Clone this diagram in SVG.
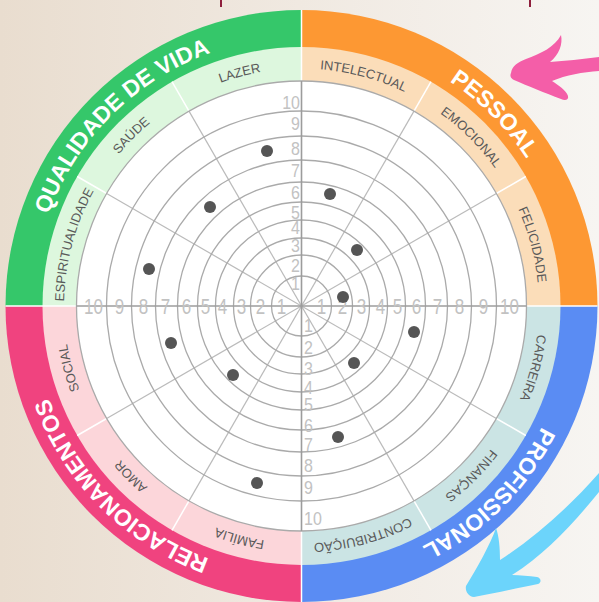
<svg xmlns="http://www.w3.org/2000/svg" width="599" height="602" viewBox="0 0 599 602">
<defs>
<linearGradient id="bg" x1="0" y1="0" x2="1" y2="0">
<stop offset="0" stop-color="#E9DDCF"/>
<stop offset="0.5" stop-color="#F0E9E1"/>
<stop offset="1" stop-color="#F7F5F2"/>
</linearGradient>
<path id="majorArc" d="M570.5,306 A269,269 0 0 1 32.5,306 A269,269 0 0 1 570.5,306"/>
<path id="subArc" d="M538.9,306 A237.4,237.4 0 0 1 64.1,306 A237.4,237.4 0 0 1 538.9,306"/>
<style>
.major{font-family:"Liberation Sans",Arial,sans-serif;font-size:23px;font-weight:bold;fill:#fff;text-anchor:middle}
.sub{font-family:"Liberation Sans",Arial,sans-serif;font-size:13px;fill:#595959;text-anchor:middle}
.num{font-family:"Liberation Sans",Arial,sans-serif;fill:#c2c2c2}
.hn{font-size:17px;text-anchor:middle}
.vt{font-size:16px;text-anchor:end}
.vb{font-size:16px;text-anchor:start}
.ring{fill:none;stroke:#aaa;stroke-width:1.3}
.spoke{stroke:#bbb;stroke-width:1.2}
.axis{stroke:#9c9c9c;stroke-width:1.6}
.sep{stroke:#fff;stroke-width:1.5}
.dot{fill:#555}
</style>
</defs>
<rect width="599" height="602" fill="url(#bg)"/>
<g id="ticks" stroke="#8E1F3D" stroke-width="2">
<line x1="221" y1="0" x2="221" y2="7"/>
<line x1="530" y1="0" x2="530" y2="7"/>
</g>
<g id="outer-band">
<path d="M301.5,306 L5.5,306 A296,296 0 0 1 301.5,10 Z" fill="#35C76A"/>
<path d="M301.5,306 L301.5,10 A296,296 0 0 1 597.5,306 Z" fill="#FD9833"/>
<path d="M301.5,306 L597.5,306 A296,296 0 0 1 301.5,602 Z" fill="#5A8CF3"/>
<path d="M301.5,306 L301.5,602 A296,296 0 0 1 5.5,306 Z" fill="#F0437F"/>
</g>
<g id="inner-band">
<path d="M301.5,306 L42.5,306 A259,259 0 0 1 301.5,47 Z" fill="#DDF7DE"/>
<path d="M301.5,306 L301.5,47 A259,259 0 0 1 560.5,306 Z" fill="#FBDDB9"/>
<path d="M301.5,306 L560.5,306 A259,259 0 0 1 301.5,565 Z" fill="#CBE4E4"/>
<path d="M301.5,306 L301.5,565 A259,259 0 0 1 42.5,306 Z" fill="#FCD6DA"/>
</g>
<g id="separators" class="sep">
<line x1="301.5" y1="10" x2="301.5" y2="81"/>
<line x1="301.5" y1="531" x2="301.5" y2="602"/>
<line x1="5.5" y1="306" x2="76.5" y2="306"/>
<line x1="526.5" y1="306" x2="597.5" y2="306"/>
<line x1="496.36" y1="418.5" x2="525.8" y2="435.5"/>
<line x1="414" y1="500.86" x2="431" y2="530.3"/>
<line x1="189" y1="500.86" x2="172" y2="530.3"/>
<line x1="106.64" y1="418.5" x2="77.2" y2="435.5"/>
<line x1="106.64" y1="193.5" x2="77.2" y2="176.5"/>
<line x1="189" y1="111.14" x2="172" y2="81.7"/>
<line x1="414" y1="111.14" x2="431" y2="81.7"/>
<line x1="496.36" y1="193.5" x2="525.8" y2="176.5"/>
</g>
<circle id="chart-area" cx="301.5" cy="306" r="225" fill="#fff"/>
<g id="grid">
<line class="spoke" x1="496.36" y1="418.5" x2="106.64" y2="193.5"/>
<line class="spoke" x1="414" y1="500.86" x2="189" y2="111.14"/>
<line class="spoke" x1="189" y1="500.86" x2="414" y2="111.14"/>
<line class="spoke" x1="106.64" y1="418.5" x2="496.36" y2="193.5"/>
<circle class="ring" cx="301.5" cy="306" r="30"/>
<circle class="ring" cx="301.5" cy="306" r="51"/>
<circle class="ring" cx="301.5" cy="306" r="68"/>
<circle class="ring" cx="301.5" cy="306" r="86"/>
<circle class="ring" cx="301.5" cy="306" r="104"/>
<circle class="ring" cx="301.5" cy="306" r="124"/>
<circle class="ring" cx="301.5" cy="306" r="146"/>
<circle class="ring" cx="301.5" cy="306" r="170"/>
<circle class="ring" cx="301.5" cy="306" r="195"/>
<circle class="ring" cx="301.5" cy="306" r="225"/>
<line class="axis" x1="76.5" y1="306" x2="526.5" y2="306"/>
<line class="axis" x1="301.5" y1="81" x2="301.5" y2="531"/>
</g>
<g id="scale-right" class="num hn">
<text transform="translate(321.5 306) scale(1 1.3)" y="6.1">1</text>
<text transform="translate(342.5 306) scale(1 1.3)" y="6.1">2</text>
<text transform="translate(361.5 306) scale(1 1.3)" y="6.1">3</text>
<text transform="translate(380.5 306) scale(1 1.3)" y="6.1">4</text>
<text transform="translate(397.5 306) scale(1 1.3)" y="6.1">5</text>
<text transform="translate(416.5 306) scale(1 1.3)" y="6.1">6</text>
<text transform="translate(437.5 306) scale(1 1.3)" y="6.1">7</text>
<text transform="translate(459.5 306) scale(1 1.3)" y="6.1">8</text>
<text transform="translate(483.5 306) scale(1 1.3)" y="6.1">9</text>
<text transform="translate(509.5 306) scale(1 1.3)" y="6.1">10</text>
</g>
<g id="scale-left" class="num hn">
<text transform="translate(281.5 306) scale(1 1.3)" y="6.1">1</text>
<text transform="translate(260.5 306) scale(1 1.3)" y="6.1">2</text>
<text transform="translate(241.5 306) scale(1 1.3)" y="6.1">3</text>
<text transform="translate(222.5 306) scale(1 1.3)" y="6.1">4</text>
<text transform="translate(205.5 306) scale(1 1.3)" y="6.1">5</text>
<text transform="translate(186.5 306) scale(1 1.3)" y="6.1">6</text>
<text transform="translate(165.5 306) scale(1 1.3)" y="6.1">7</text>
<text transform="translate(143.5 306) scale(1 1.3)" y="6.1">8</text>
<text transform="translate(119.5 306) scale(1 1.3)" y="6.1">9</text>
<text transform="translate(93.5 306) scale(1 1.3)" y="6.1">10</text>
</g>
<g id="scale-top" class="num vt">
<text transform="translate(300 283) scale(1 1.15)" y="5.7">1</text>
<text transform="translate(300 265) scale(1 1.15)" y="5.7">2</text>
<text transform="translate(300 245) scale(1 1.15)" y="5.7">3</text>
<text transform="translate(300 227) scale(1 1.15)" y="5.7">4</text>
<text transform="translate(300 212) scale(1 1.15)" y="5.7">5</text>
<text transform="translate(300 192) scale(1 1.15)" y="5.7">6</text>
<text transform="translate(300 170) scale(1 1.15)" y="5.7">7</text>
<text transform="translate(300 148) scale(1 1.15)" y="5.7">8</text>
<text transform="translate(300 123) scale(1 1.15)" y="5.7">9</text>
<text transform="translate(300 102) scale(1 1.15)" y="5.7">10</text>
</g>
<g id="scale-bottom" class="num vb">
<text transform="translate(304 325) scale(1 1.15)" y="5.7">1</text>
<text transform="translate(304 347) scale(1 1.15)" y="5.7">2</text>
<text transform="translate(304 368) scale(1 1.15)" y="5.7">3</text>
<text transform="translate(304 387) scale(1 1.15)" y="5.7">4</text>
<text transform="translate(304 404) scale(1 1.15)" y="5.7">5</text>
<text transform="translate(304 425) scale(1 1.15)" y="5.7">6</text>
<text transform="translate(304 444) scale(1 1.15)" y="5.7">7</text>
<text transform="translate(304 465) scale(1 1.15)" y="5.7">8</text>
<text transform="translate(304 487) scale(1 1.15)" y="5.7">9</text>
<text transform="translate(304 518) scale(1 1.15)" y="5.7">10</text>
</g>
<g id="major-labels">
<text class="major"><textPath href="#majorArc" startOffset="1056.3">QUALIDADE DE VIDA</textPath></text>
<text class="major"><textPath href="#majorArc" startOffset="1478.8">PESSOAL</textPath></text>
<text class="major"><textPath href="#majorArc" startOffset="211.3">PROFISSIONAL</textPath></text>
<text class="major"><textPath href="#majorArc" startOffset="633.8">RELACIONAMENTOS</textPath></text>
</g>
<g id="sub-labels">
<text class="sub"><textPath href="#subArc" startOffset="807.9">ESPIRITUALIDADE</textPath></text>
<text class="sub"><textPath href="#subArc" startOffset="932.2">SAÚDE</textPath></text>
<text class="sub"><textPath href="#subArc" startOffset="1056.5">LAZER</textPath></text>
<text class="sub"><textPath href="#subArc" startOffset="1180.8">INTELECTUAL</textPath></text>
<text class="sub"><textPath href="#subArc" startOffset="1305.2">EMOCIONAL</textPath></text>
<text class="sub"><textPath href="#subArc" startOffset="1429.4">FELICIDADE</textPath></text>
<text class="sub"><textPath href="#subArc" startOffset="62.1">CARREIRA</textPath></text>
<text class="sub"><textPath href="#subArc" startOffset="186.4">FINANÇAS</textPath></text>
<text class="sub"><textPath href="#subArc" startOffset="310.7">CONTRIBUIÇÃO</textPath></text>
<text class="sub"><textPath href="#subArc" startOffset="435">FAMÍLIA</textPath></text>
<text class="sub"><textPath href="#subArc" startOffset="559.3">AMOR</textPath></text>
<text class="sub"><textPath href="#subArc" startOffset="683.6">SOCIAL</textPath></text>
</g>
<g id="dots" class="dot">
<circle cx="267" cy="151" r="6"/>
<circle cx="210" cy="207" r="6"/>
<circle cx="149" cy="269" r="6"/>
<circle cx="330" cy="194" r="6"/>
<circle cx="357" cy="250" r="6"/>
<circle cx="343" cy="297" r="6"/>
<circle cx="414" cy="332" r="6"/>
<circle cx="354" cy="363" r="6"/>
<circle cx="338" cy="437" r="6"/>
<circle cx="171" cy="343" r="6"/>
<circle cx="233" cy="375" r="6"/>
<circle cx="257" cy="483" r="6"/>
</g>
<g id="arrows">
<path id="pink-arrow" fill="#F45EA8" d="M511,73 C512,66 518,62 526,59 C540,54 555,47 561,35 C563,44 559,55 550,62 C565,61 582,59 599,57 L599,71 C583,72 566,75 552,81 C558,85 566,90 568,96 C569,100 565,101 561,99 C545,93 528,86 514,80 C510,78 510,75 511,73 Z"/>
<path id="blue-arrow" fill="#6CD4FB" d="M599,473 C570,506 536.9,536 500,560 C500,548 499,536 496,528 C490,545 477,568 466,586 C465,591 468,596 474,597 C495,593 518,588 538,584 C542,582 541,578 537,577 C529,576 520,575 512,575 C545.7,554 573.9,522.8 599,492 Z"/>
</g>
</svg>
